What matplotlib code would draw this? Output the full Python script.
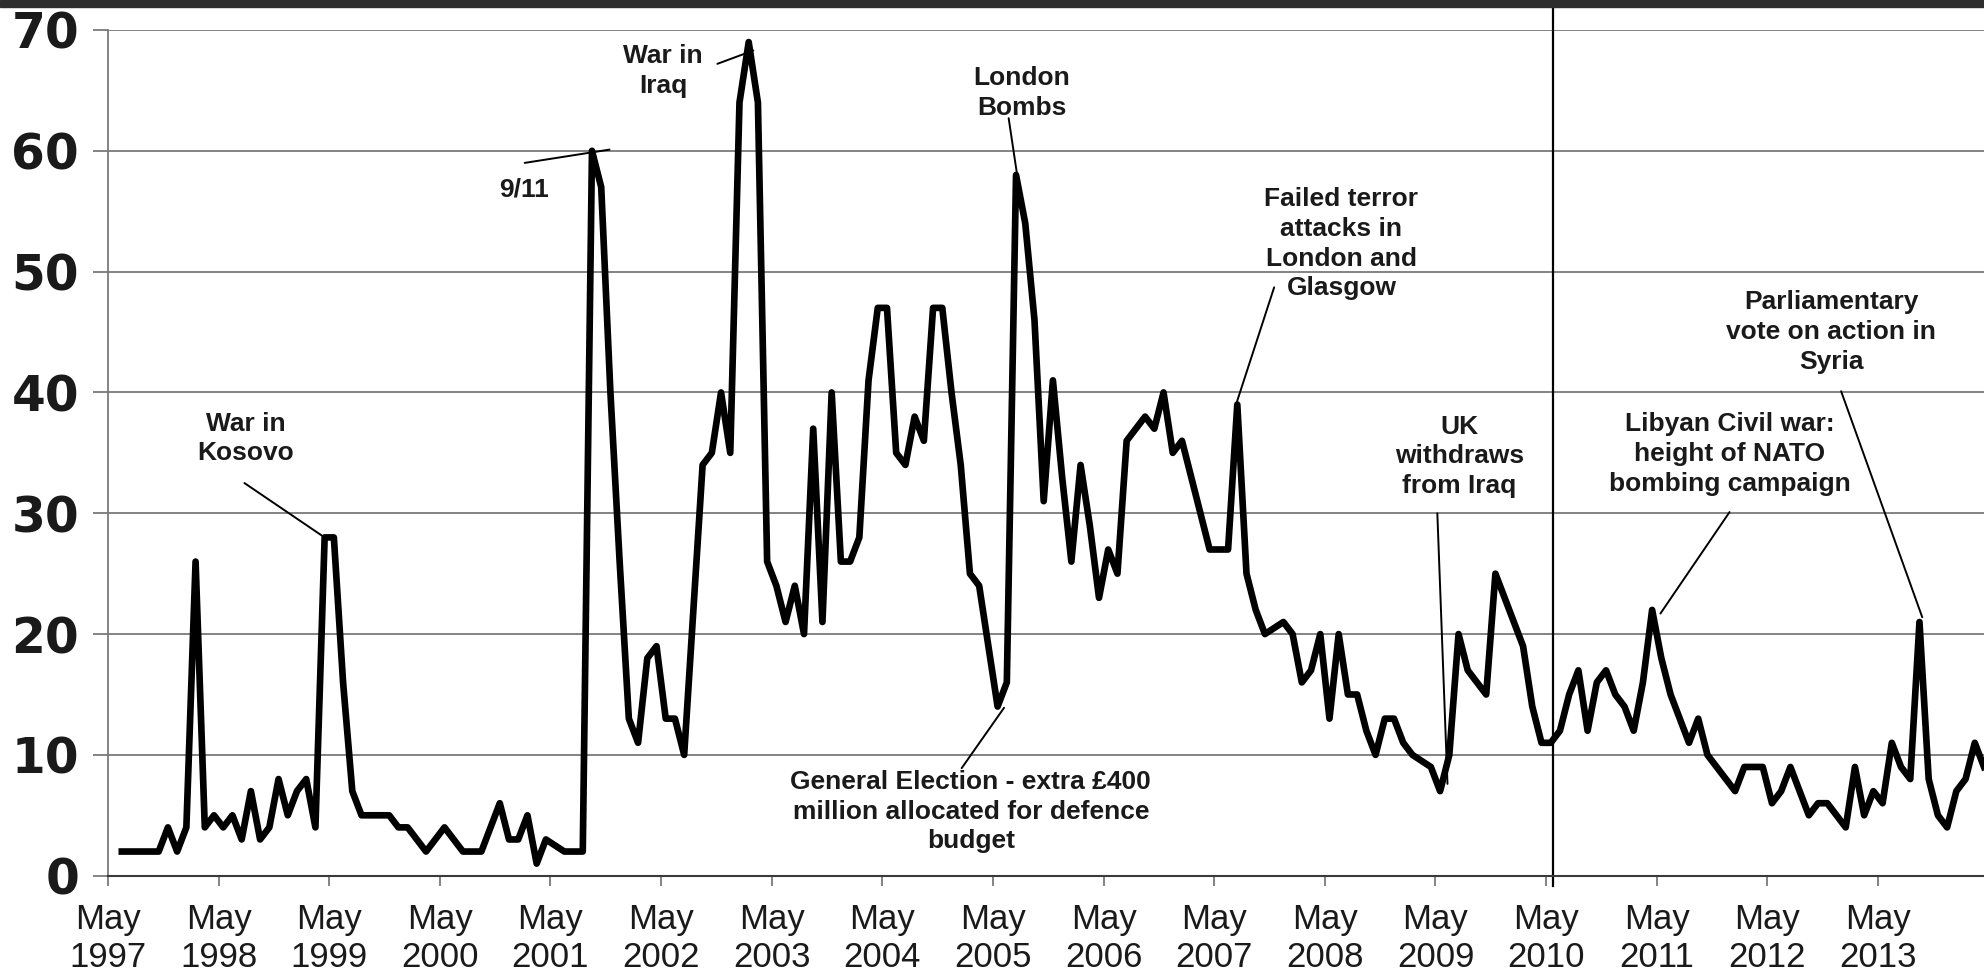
import numpy as np
import matplotlib.pyplot as plt
from matplotlib.patches import Rectangle

plt.rcParams['font.family'] = ['Liberation Sans', 'DejaVu Sans']

# Monthly values, first point = June 1997 (months counted from May 1997)
start_month = 1
values = [
    2, 2, 2, 2, 2, 4, 2, 4, 26, 4, 5, 4,            # Jun 97 - May 98
    5, 3, 7, 3, 4, 8, 5, 7, 8, 4, 28, 28,           # Jun 98 - May 99
    16, 7, 5, 5, 5, 5, 4, 4, 3, 2, 3, 4,            # Jun 99 - May 00
    3, 2, 2, 2, 4, 6, 3, 3, 5, 1, 3, 2.5,           # Jun 00 - May 01
    2, 2, 2, 60, 57, 40, 26, 13, 11, 18, 19, 13,    # Jun 01 - May 02
    13, 10, 22, 34, 35, 40, 35, 64, 69, 64, 26, 24, # Jun 02 - May 03
    21, 24, 20, 37, 21, 40, 26, 26, 28, 41, 47, 47, # Jun 03 - May 04
    35, 34, 38, 36, 47, 47, 40, 34, 25, 24, 19, 14, # Jun 04 - May 05
    16, 58, 54, 46, 31, 41, 33, 26, 34, 29, 23, 27, # Jun 05 - May 06
    25, 36, 37, 38, 37, 40, 35, 36, 33, 30, 27, 27, # Jun 06 - May 07
    27, 39, 25, 22, 20, 20.5, 21, 20, 16, 17, 20, 13,  # Jun 07 - May 08
    20, 15, 15, 12, 10, 13, 13, 11, 10, 9.5, 9, 7,  # Jun 08 - May 09
    10, 20, 17, 16, 15, 25, 23, 21, 19, 14, 11, 11, # Jun 09 - May 10
    12, 15, 17, 12, 16, 17, 15, 14, 12, 16, 22, 18, # Jun 10 - May 11
    15, 13, 11, 13, 10, 9, 8, 7, 9, 9, 9, 6,        # Jun 11 - May 12
    7, 9, 7, 5, 6, 6, 5, 4, 9, 5, 7, 6,             # Jun 12 - May 13
    11, 9, 8, 21, 8, 5, 4, 7, 8, 11, 9,             # Jun 13 - Apr 14
]
tick_years = list(range(1997, 2014))
tick_labels = [f"May\n{y}" for y in tick_years]
y_ticks = [0, 10, 20, 30, 40, 50, 60, 70]

# event labels: text, text centre, connector start, connector end
events = [
    ("War in\nKosovo", (14.9, 36.2), (14.8, 32.5), (23.3, 28.1)),
    ("9/11", (45.1, 56.8), (45.2, 59.0), (54.4, 60.1)),
    ("War in\nIraq", (60.2, 66.6), (66.1, 67.2), (70.0, 68.3)),
    ("London\nBombs", (99.1, 64.8), (97.7, 62.7), (98.6, 58.1)),
    ("General Election - extra £400\nmillion allocated for defence\nbudget",
     (93.6, 5.3), (92.6, 8.9), (97.2, 13.9)),
    ("Failed terror\nattacks in\nLondon and\nGlasgow", (133.8, 52.3), (126.5, 48.7), (122.45, 39.2)),
    ("UK\nwithdraws\nfrom Iraq", (146.6, 34.7), (144.2, 30.0), (145.3, 7.6)),
    ("Libyan Civil war:\nheight of NATO\nbombing campaign", (175.9, 34.9), (175.9, 30.1), (168.4, 21.7)),
    ("Parliamentary\nvote on action in\nSyria", (186.9, 45.0), (188.0, 40.1), (196.8, 21.4)),
]

fig = plt.figure(figsize=(19.84, 9.72), dpi=100)
ax = fig.add_axes([108 / 1984, 96.3 / 972, 1 - 108 / 1984, 845.7 / 972])

x = np.arange(len(values)) + start_month + 0.5
ax.plot(x, values, color='black', lw=4.8, solid_joinstyle='round', zorder=3)

ax.set_xlim(0, 203.5)
ax.set_ylim(0, 70)

# grid and axes styling
grid_col = '#7a7a7a'
ax.set_yticks(y_ticks)
ax.set_yticklabels([str(v) for v in y_ticks], fontsize=35, fontweight='bold',
                   family='DejaVu Sans', color='#1a1a1a')
ax.yaxis.grid(True, color=grid_col, lw=1.3)
ax.set_axisbelow(True)
ax.tick_params(axis='y', length=10.8, width=1.3, color=grid_col, pad=10)
ax.set_xticks([12 * i for i in range(len(tick_years))])
ax.set_xticklabels(tick_labels, fontsize=25, linespacing=1.2, color='#1a1a1a')
ax.tick_params(axis='x', length=7.5, width=1.3, color=grid_col, pad=12)
for side in ['top', 'right']:
    ax.spines[side].set_visible(False)
ax.spines['left'].set_color(grid_col)
ax.spines['left'].set_linewidth(1.3)
ax.spines['bottom'].set_color('#3a3a3a')
ax.spines['bottom'].set_linewidth(1.5)

# marker line around May 2010
ax.axvline(156.75, ymin=-0.012, ymax=71.9 / 70, color='black', lw=1.6,
           clip_on=False, zorder=2)

for label, txt_pos, line_start, line_end in events:
    ax.text(txt_pos[0], txt_pos[1], label, ha='center', va='center',
            multialignment='center', fontsize=19, fontweight='bold',
            color='#1a1a1a', linespacing=1.3)
    ax.annotate('', xy=line_end, xytext=line_start,
                arrowprops=dict(arrowstyle='-', color='black', lw=1.4,
                                shrinkA=0, shrinkB=0))

# dark strip at the very top
fig.patches.append(Rectangle((0, 1 - 7 / 972), 1, 7 / 972,
                             transform=fig.transFigure, color='#2e2e2e'))

fig.savefig('out.png', dpi=100)
